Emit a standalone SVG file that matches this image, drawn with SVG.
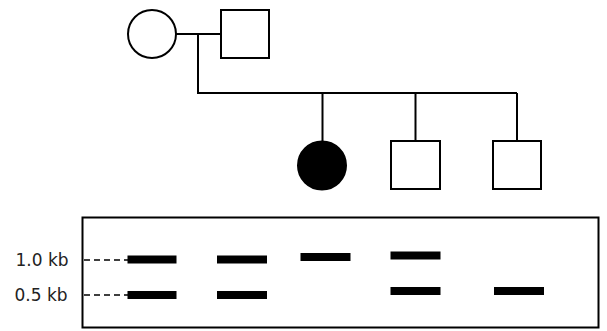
<svg xmlns="http://www.w3.org/2000/svg" width="607" height="331" viewBox="0 0 607 331">
<style>
.ln{stroke:#000;stroke-width:2;fill:none}
.nd{stroke:#000;stroke-width:2;fill:#fff}
.af{stroke:#000;stroke-width:2;fill:#000}
.band{fill:#000}
.dash{stroke:#000;stroke-width:1.5;stroke-dasharray:6,4;fill:none}
.lbl{font-family:"DejaVu Sans","Liberation Sans",sans-serif;font-size:17px;fill:#222}
</style>
<g id="connectors">
<path class="ln" d="M176 34 H221"/>
<path class="ln" d="M198 34 V93 H517"/>
<path class="ln" d="M322.5 93 V141"/>
<path class="ln" d="M415.5 93 V141"/>
<path class="ln" d="M517 93 V141"/>
</g>
<g id="mother"><circle class="nd" cx="152" cy="34" r="24"/></g>
<g id="father"><rect class="nd" x="221" y="10" width="48" height="48"/></g>
<g id="daughter"><circle class="af" cx="322" cy="165.5" r="24"/></g>
<g id="son1"><rect class="nd" x="391" y="141" width="49" height="48"/></g>
<g id="son2"><rect class="nd" x="493" y="141" width="48" height="48"/></g>
<g id="gel">
<rect class="ln" x="82.5" y="217.5" width="516" height="110"/>
<path class="dash" d="M84 260 H128"/>
<path class="dash" d="M84 295 H128"/>
<rect class="band" x="127.5" y="255.5" width="49" height="8"/>
<rect class="band" x="127.5" y="291" width="49" height="8"/>
<rect class="band" x="217" y="255.5" width="50" height="8"/>
<rect class="band" x="217" y="291" width="50" height="8"/>
<rect class="band" x="300.5" y="253" width="50" height="8"/>
<rect class="band" x="390.5" y="251.5" width="50" height="8"/>
<rect class="band" x="390.5" y="287" width="50" height="8"/>
<rect class="band" x="494" y="287" width="50" height="8"/>
<text class="lbl" x="15.5" y="265.7">1.0 kb</text>
<text class="lbl" x="14.5" y="301">0.5 kb</text>
</g>
</svg>
